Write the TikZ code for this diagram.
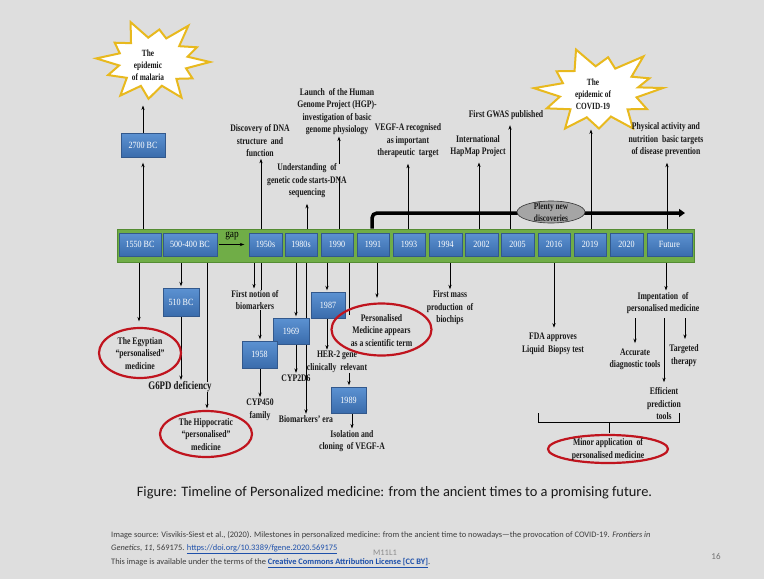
\documentclass[tikz,border=0pt]{standalone}
\usepackage{fontspec}
\setmainfont{Liberation Serif}
\newfontfamily\lblfont[FakeStretch=0.77]{Liberation Serif}
\newfontfamily\boxfont[FakeStretch=0.85]{Liberation Serif}
\newfontfamily\capfont{Carlito}
\usetikzlibrary{arrows.meta,shapes.geometric,calc}
\pgfdeclarelayer{back}
\pgfdeclarelayer{bg}
\pgfsetlayers{back,bg,main}
\definecolor{bgc}{RGB}{222,222,222}
\definecolor{barg}{RGB}{112,173,71}
\definecolor{bargd}{RGB}{84,140,50}
\definecolor{boxt}{RGB}{92,146,210}
\definecolor{boxb}{RGB}{58,108,172}
\definecolor{boxd}{RGB}{50,88,140}
\definecolor{ellred}{RGB}{192,20,30}
\definecolor{stary}{RGB}{232,185,30}
\definecolor{linkb}{RGB}{30,80,170}
\definecolor{plentyg}{RGB}{165,165,165}
\definecolor{srcg}{RGB}{60,60,60}
\tikzset{
 lbl/.style={font={\lblfont\bfseries\fontsize{10}{12.5}\selectfont}, align=center, inner sep=0pt, text=black!90},
 yr/.style={draw=boxd, line width=0.4pt, top color=boxt, bottom color=boxb, text=white,
   font={\boxfont\fontsize{9.5}{11}\selectfont}, minimum height=23pt, inner sep=0pt},
 arr/.style={-{Stealth[length=4.5pt,width=3.2pt]}, line width=0.7pt, shorten >=1.5pt},
 ln/.style={line width=0.7pt},
 redell/.style={ellipse, draw=ellred, line width=2.2pt, inner sep=0pt},
 starb/.style={draw=stary, line width=2pt, fill=white, line join=miter},
 barstyle/.style={draw=bargd, fill=barg, line width=0.6pt, minimum width=577pt, minimum height=33pt, inner sep=0pt},
 thickarr/.style={line width=3.5pt, rounded corners=5pt, -{Triangle[length=6pt,width=8pt]}},
 src/.style={font={\capfont\fontsize{8.4}{9}\selectfont}, text=srcg, anchor=west, inner sep=0pt},
}
\begin{document}
\begin{tikzpicture}[x=1pt,y=-1pt]
\useasboundingbox (0,0) rectangle (764,579);
\begin{pgfonlayer}{back}
\fill[bgc] (0,0) rectangle (764,579);
\end{pgfonlayer}

% timeline bar
\node[barstyle] (bar) at (405.5,245.5) {};
\node[yr, minimum width=42pt] (b1550) at (140,244.5) {1550 BC};
\node[yr, minimum width=54pt] (b500) at (190,244.5) {500-400 BC};
\node[yr, minimum width=33pt] (b1950) at (265.5,244.5) {1950s};
\node[yr, minimum width=32pt] (b1980) at (301,244.5) {1980s};
\node[yr, minimum width=32pt] (b1990) at (337,244.5) {1990};
\node[yr, minimum width=32pt] (b1991) at (373,244.5) {1991};
\node[yr, minimum width=32pt] (b1993) at (409,244.5) {1993};
\node[yr, minimum width=33pt] (b1994) at (445.5,244.5) {1994};
\node[yr, minimum width=33pt] (b2002) at (481.5,244.5) {2002};
\node[yr, minimum width=33pt] (b2005) at (517.5,244.5) {2005};
\node[yr, minimum width=32pt] (b2016) at (554,244.5) {2016};
\node[yr, minimum width=32pt] (b2019) at (590,244.5) {2019};
\node[yr, minimum width=33pt] (b2020) at (626.5,244.5) {2020};
\node[yr, minimum width=45pt] (bfut) at (669.5,244.5) {Future};
\node[font={\boxfont\fontsize{11}{12}\selectfont}, inner sep=0pt] (gapt) at (232,236) {gap};
\draw[arr] ([xshift=2pt]b500.east) -- ([xshift=-3pt]b1950.west);

% other year boxes
\node[yr, minimum width=44pt, minimum height=24pt] (b2700) at (143,145) {2700 BC};
\node[yr, minimum width=36pt, minimum height=28pt] (b510) at (181,302) {510 BC};
\node[yr, minimum width=36pt, minimum height=26pt] (b1969) at (291,331) {1969};
\node[yr, minimum width=35pt, minimum height=27pt] (b1958) at (259.5,354.5) {1958};
\node[yr, minimum width=34pt, minimum height=26pt] (b1987) at (328,305) {1987};
\node[yr, minimum width=35pt, minimum height=26pt] (b1989) at (348.5,400) {1989};

% stars
\begin{scope}[shift={(153,62)}]
\draw[starb] (57,0) \foreach \a/\f in {15/0.6,30/0.8,45/0.58,60/1,75/0.6,95/0.9,110/0.62,125/1,140/0.6,158/0.85,172/0.6,185/1,200/0.62,215/0.82,230/0.6,248/1.05,262/0.6,278/0.8,292/0.62,305/1.08,320/0.6,335/0.85,348/0.62} { -- ({57*\f*cos(\a)},{41*\f*sin(\a)}) } -- cycle;
\end{scope}
\begin{scope}[shift={(599,92)}]
\draw[starb] (64,-4) \foreach \a/\f in {12/0.6,28/0.85,42/0.6,58/1,72/0.6,90/0.85,108/0.62,122/1,138/0.6,155/0.9,170/0.62,185/1.02,200/0.6,216/0.82,232/0.62,250/1.05,265/0.6,280/0.82,295/0.6,310/1.08,325/0.62,338/0.85,350/0.62} { -- ({64*\f*cos(\a)},{43*\f*sin(\a)}) } -- cycle;
\end{scope}
\node[lbl, font={\lblfont\bfseries\fontsize{9.5}{11.8}\selectfont}] (malt) at (148,65.5) {The\\epidemic\\of malaria};
\node[lbl, font={\lblfont\bfseries\fontsize{9.5}{11.8}\selectfont}] (covt) at (593,94) {The\\epidemic of\\COVID-19};
\coordinate (malb) at (143,104);
\coordinate (covb) at (591,128);

% top labels
\node[lbl] (dna) at (260,141) {Discovery of DNA\\structure \ and\\function};
\node[lbl] (gen) at (307,181) {Understanding \ of\\genetic code starts-DNA\\sequencing};
\node[lbl] (hgp) at (337,111.5) {Launch \ of the Human\\Genome Project (HGP)-\\investigation of basic\\genome physiology};
\node[lbl] (vegf) at (408,141) {VEGF-A recognised\\as important\\therapeutic \ target};
\node[lbl] (hap) at (478,146) {International\\HapMap Project};
\node[lbl] (gwas) at (506,115) {First GWAS published};
\node[lbl] (phys) at (666,140) {Physical activity and\\nutrition \ basic targets\\of disease prevention};

% bottom labels
\node[redell, minimum width=82pt, minimum height=50pt] (egypt) at (140,353) {};
\node[lbl] (egyptt) at (140,353.5) {The Egyptian\\“personalised”\\medicine};
\node[lbl, font={\lblfont\bfseries\fontsize{11.5}{12}\selectfont}] (g6pd) at (180,387) {G6PD deficiency};
\node[redell, minimum width=92pt, minimum height=46pt] (hippo) at (206,434) {};
\node[lbl] (hippot) at (206,434.5) {The Hippocratic\\“personalised”\\medicine};
\node[lbl] (biom) at (255,300) {First notion of\\biomarkers};
\node[lbl] (cyp450) at (260,409.5) {CYP450\\family};
\node[lbl] (cyp2d6) at (296,378) {CYP2D6};
\node[lbl] (bera) at (306,419) {Biomarkers’ era};
\node[lbl] (her2) at (337,362) {HER-2 gene\\clinically \ relevant};
\node[lbl] (iso) at (352,441) {Isolation and\\cloning \ of VEGF-A};
\node[redell, minimum width=100pt, minimum height=52pt] (pm) at (381.5,329.5) {};
\node[lbl] (pmt) at (381.5,330.5) {Personalised\\Medicine appears\\as a scientific term};
\node[lbl] (chips) at (450,308) {First mass\\production \ of\\biochips};
\node[lbl] (fda) at (553,344) {FDA approves\\Liquid \ Biopsy test};
\node[lbl] (impl) at (663,303) {Impentation \ of\\personalised medicine};
\node[lbl] (acc) at (635,359.5) {Accurate\\diagnostic tools};
\node[lbl] (eff) at (664,404) {Efficient\\prediction\\tools};
\node[lbl] (targ) at (684,355.5) {Targeted\\therapy};
\node[redell, minimum width=120pt, minimum height=28pt] (minor) at (608,449) {};
\node[lbl] (minort) at (608,449.5) {Minor application \ of\\personalised medicine};

% plenty ellipse
\node[ellipse, draw=black!80, line width=0.6pt, fill=plentyg, minimum width=68pt, minimum height=22pt, inner sep=0pt] (plenty) at (551,212) {};
\node[lbl, font={\lblfont\bfseries\fontsize{9.5}{12}\selectfont}] (plentyt) at (551,212.5) {Plenty new\\discoveries};
\coordinate (tkend) at (685,213);

% bracket
\coordinate (brL) at (538,413);
\coordinate (brR) at (679,413);
\coordinate (brM) at (609,422);
\coordinate (brB) at (609,433);

% caption and source
\node[font={\capfont\fontsize{14.4}{16}\selectfont}, inner sep=0pt, text=black!90] (cap) at (394.5,493) {Figure: Timeline of Personalized medicine: from the ancient times to a promising future.};
\node[src] (s1) at (111,535) {Image source: Visvikis-Siest et al., (2020). Milestones in personalized medicine: from the ancient time to nowadays—the provocation of COVID-19. \textit{Frontiers in}};
\node[src] (s2) at (111,549) {\textit{Genetics}, \textit{11}, 569175. \textcolor{linkb}{\underline{https://doi.org/10.3389/fgene.2020.569175}}};
\node[src] (s3) at (111,563) {This image is available under the terms of the \textcolor{linkb}{\bfseries\underline{Creative Commons Attribution License [CC BY]}}.};
\node[font={\capfont\fontsize{8.5}{9}\selectfont}, text=black!45, inner sep=0pt] (mark) at (385,553) {M11L1};
\node[font={\capfont\fontsize{9}{9}\selectfont}, text=black!55, inner sep=0pt] (pnum) at (716,556) {16};

\begin{pgfonlayer}{bg}
% upward connectors
\draw[arr] (bar.north -| b2700.south) -- ([yshift=-4pt]b2700.south);
\draw[arr] (b2700.north) -- (malb);
\draw[arr] (bar.north -| 261,0) -- (dna.south -| 261,0);
\draw[arr] (bar.north -| 307,0) -- ([yshift=-4pt]gen.south -| 307,0);
\draw[ln] (bar.north -| 339,0) -- (339,177);
\draw[arr] (339,164) -- (hgp.south -| 339,0);
\draw[arr] (bar.north -| vegf.south) -- ([yshift=-4pt]vegf.south);
\draw[arr] (bar.north -| 479,0) -- ([yshift=-4pt]hap.south -| 479,0);
\draw[arr] (bar.north -| 510,0) -- ([yshift=-4pt]gwas.south -| 510,0);
\draw[arr] (bar.north -| covb) -- (covb);
\draw[arr] (bar.north -| 667,0) -- ([yshift=-4pt]phys.south -| 667,0);
% downward connectors
\draw[arr] (bar.south -| 139,0) -- ([yshift=4pt]egypt.north -| 139,0);
\draw[arr] (bar.south -| b510.north) -- (b510.north);
\draw[arr] (b510.south) -- (g6pd.north -| b510.south);
\draw[ln] (bar.south -| 207,0) -- (g6pd.north -| 207,0);
\draw[arr] (g6pd.south -| 207,0) -- (hippo.north -| 207,0);
\draw[arr] (bar.south -| 254,0) -- (biom.north -| 254,0);
\draw[ln] (bar.south -| 261,0) -- (biom.north -| 261,0);
\draw[arr] (biom.south -| 260,0) -- (b1958.north -| 260,0);
\draw[arr] (b1958.south -| 260,0) -- (cyp450.north -| 260,0);
\draw[arr] (bar.south -| 296,0) -- (b1969.north -| 296,0);
\draw[arr] (b1969.south -| 296,0) -- (cyp2d6.north -| 296,0);
\draw[arr] (bar.south -| bera.north) -- (bera.north);
\draw[arr] (bar.south -| 327,0) -- (b1987.north -| 327,0);
\draw[arr] (b1987.south -| 327,0) -- (her2.north -| 327,0);
\draw[ln] (bar.south -| 349,0) -- (349,315);
\draw[arr] (her2.south -| 349,0) -- (b1989.north -| 349,0);
\draw[arr] (b1989.south -| 352,0) -- (iso.north -| 352,0);
\draw[arr] (bar.south -| 377,0) -- ([yshift=3pt]pm.north -| 377,0);
\draw[arr] (bar.south -| chips.north) -- (chips.north);
\draw[arr] (bar.south -| 554,0) -- ([yshift=4pt]fda.north -| 554,0);
\draw[arr] (bar.south -| 666,0) -- (impl.north -| 666,0);
\draw[arr] ([yshift=-4pt]impl.south -| acc.north) -- ([yshift=4pt]acc.north);
\draw[arr] ([yshift=-4pt]impl.south -| eff.north) -- ([yshift=4pt]eff.north);
\draw[arr] ([yshift=-4pt]impl.south -| 685,0) -- ([yshift=4pt]targ.north -| 685,0);
% bracket
\draw[line width=1pt] (brL) -- (brL |- brM) -- (brR |- brM) -- (brR);
\draw[line width=1pt] (brM) -- (brB);
% thick arrow
\draw[thickarr] (bar.north -| 372,0) -- (372,213) -- (tkend);
\end{pgfonlayer}
\end{tikzpicture}
\end{document}
